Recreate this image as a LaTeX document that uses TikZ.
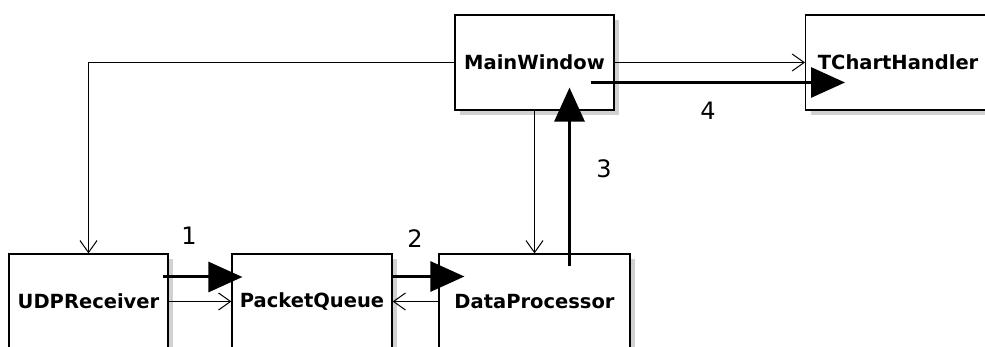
\documentclass[tikz,border=0pt]{standalone}
\usepackage{fontspec}
\setmainfont{DejaVu Sans}
\usetikzlibrary{arrows.meta,calc,shadows}

\begin{document}
\begin{tikzpicture}[x=1pt,y=-1pt,
  cls/.style={draw=black, line width=1.2pt, fill=white, minimum height=95pt,
    inner sep=0pt, font=\fontsize{19.5}{23}\selectfont\bfseries,
    drop shadow={shadow xshift=5pt, shadow yshift=-5pt, fill=black!18, opacity=1}},
  dep/.style={line width=1pt, -{Straight Barb[length=12pt,width=17pt]}},
  flow/.style={line width=3pt, -{Triangle[length=34pt,width=30pt]}},
  num/.style={font=\fontsize{24}{28}\selectfont}]
  \useasboundingbox (0,0) rectangle (985,347);
  \fill[white] (0,0) rectangle (985,347);
  \clip (0,0) rectangle (985,347);

  % classes
  \node[cls, minimum width=159pt] (mw) at (534.5,62.5) {MainWindow};
  \node[cls, minimum width=185pt, anchor=west] (tc) at (805,62.5) {TChartHandler};
  \node[cls, minimum width=159pt] (udp) at (88.5,301.5) {UDPReceiver};
  \node[cls, minimum width=160pt] (pq) at (312,301.5) {PacketQueue};
  \node[cls, minimum width=191pt] (dp) at (534.5,301.5) {DataProcessor};

  % dependencies
  \draw[dep] (mw.west) -| (udp.north);
  \draw[dep] (mw.east) -- (tc.west);
  \draw[dep] (mw.south) -- (dp.north);
  \draw[dep] (udp.east) -- (pq.west);
  \draw[dep] (dp.west) -- (pq.east);

  % data flow
  \draw[flow] ($(udp.east)+(-6,-24.5)$) -- ($(pq.west)+(11,-24.5)$);
  \draw[flow] ($(pq.east)+(-2,-25)$) -- ($(dp.west)+(26,-25)$);
  \draw[flow] ($(dp.north)+(35,13)$) -- ($(mw.south)+(35,-23)$);
  \draw[flow] ($(mw.east)+(-24,20)$) -- ($(tc.west)+(40,20)$);

  \node[num] (n1) at (189,236) {1};
  \node[num] (n2) at (415,239) {2};
  \node[num] (n3) at (604,169) {3};
  \node[num] (n4) at (708,111) {4};
\end{tikzpicture}
\end{document}
